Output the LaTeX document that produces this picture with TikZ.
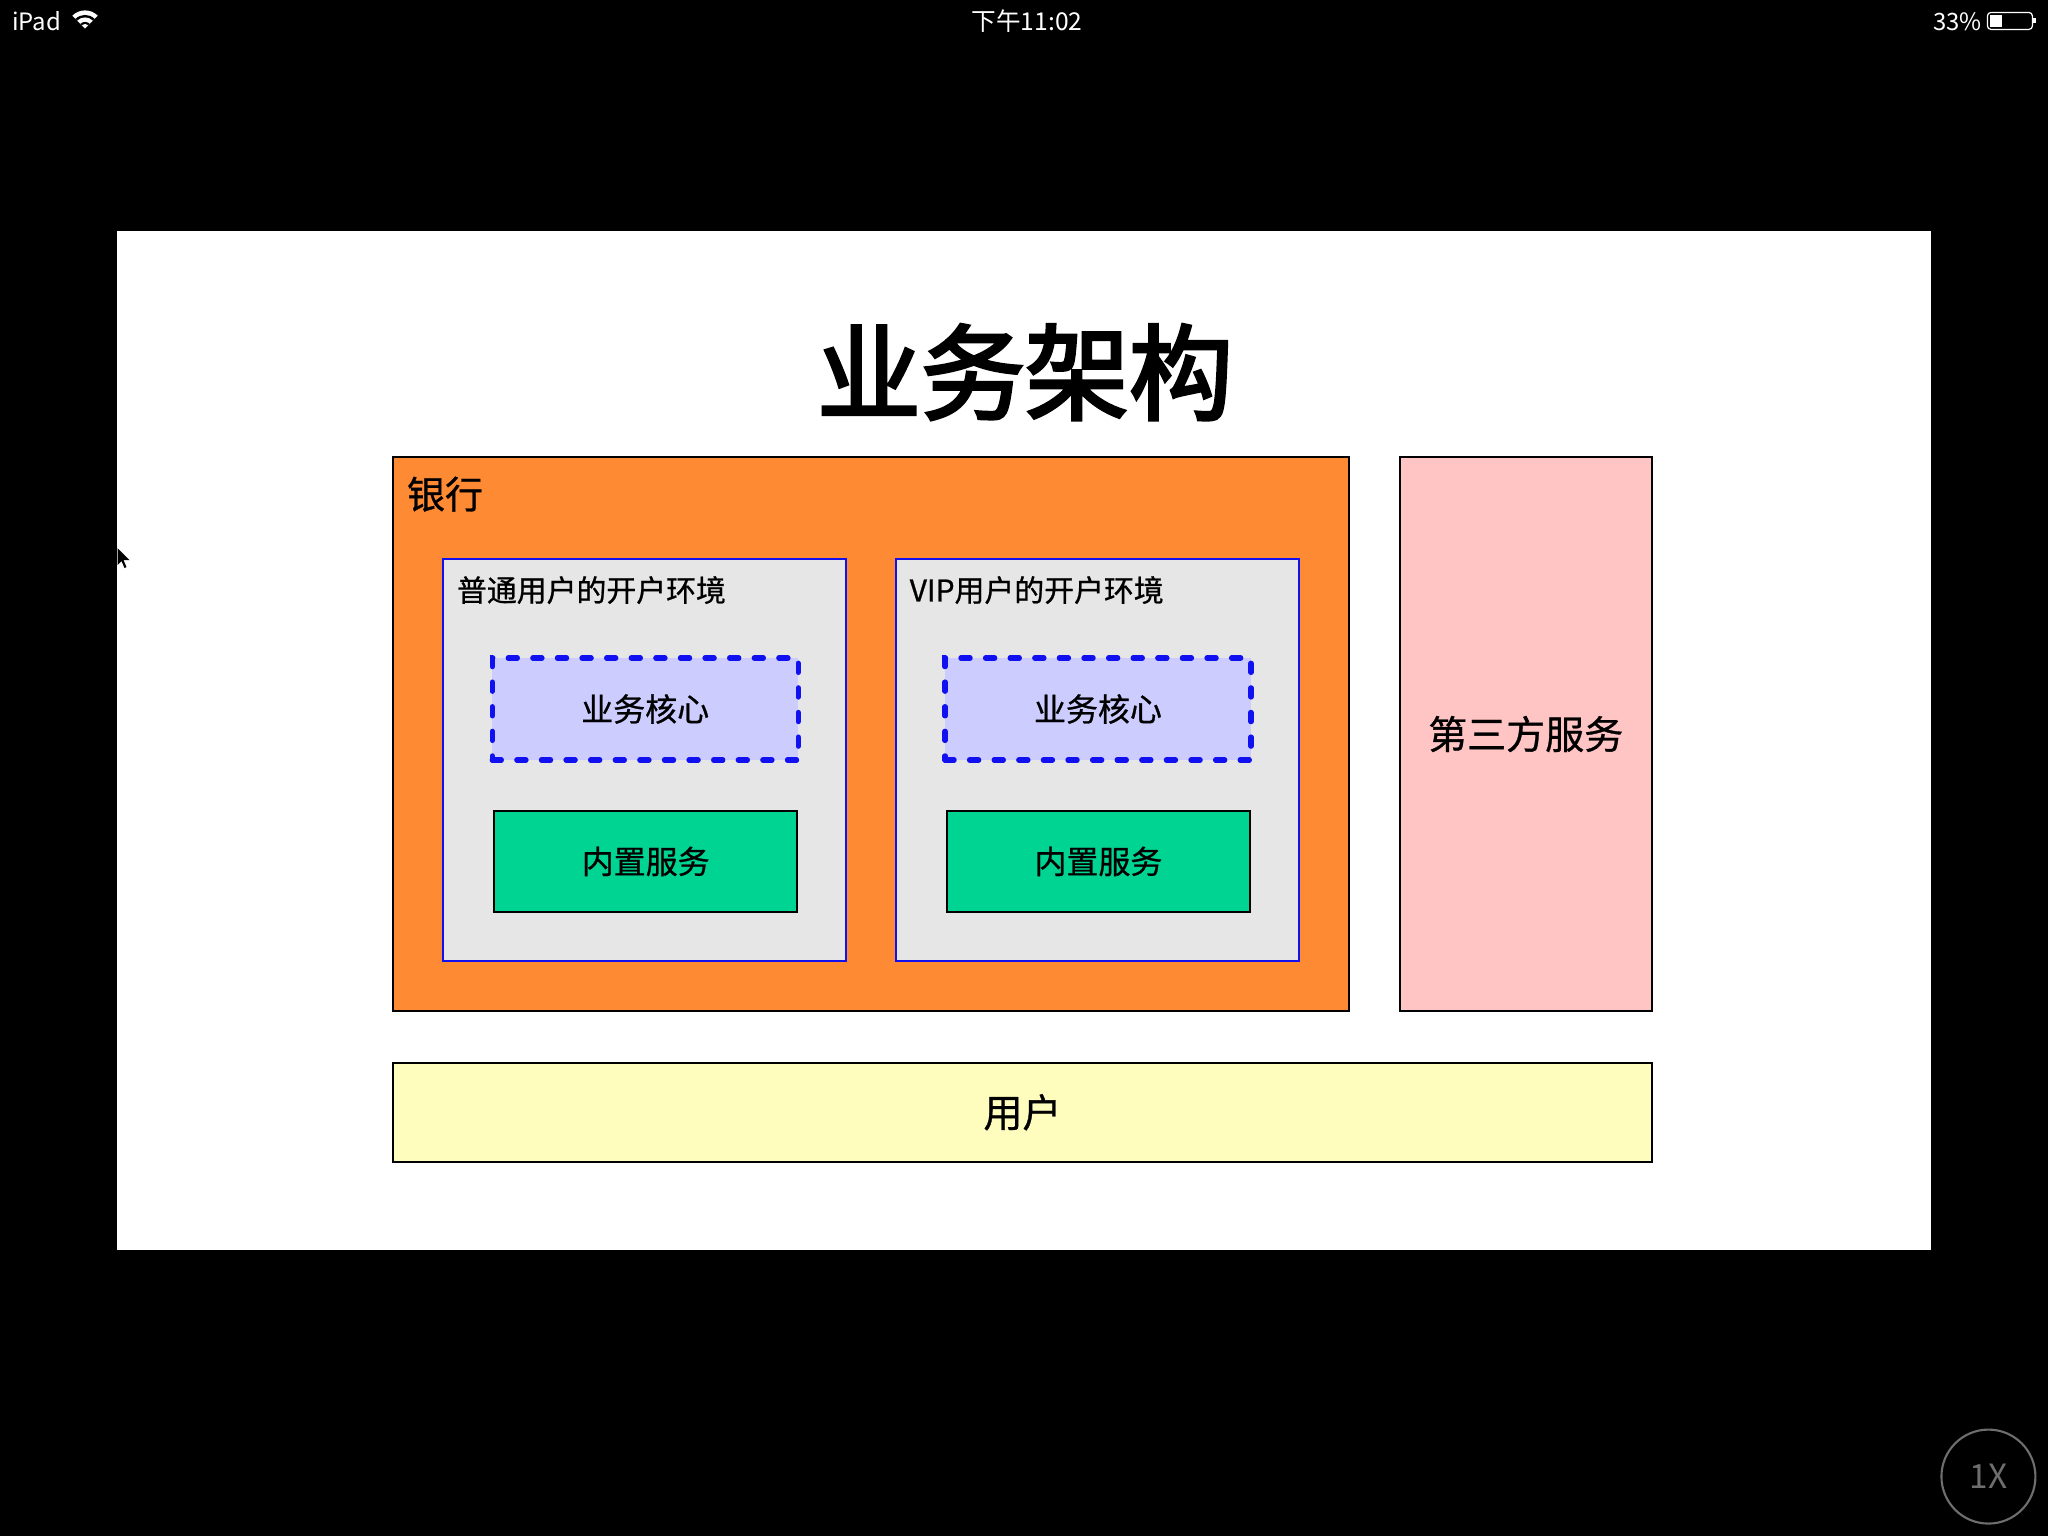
\documentclass[tikz,border=0pt]{standalone}
\usepackage{fontspec}
\setmainfont{Noto Sans CJK SC}
\newfontfamily\titlefont{Noto Sans CJK SC}[FakeBold=3]
\newfontfamily\labelfont{Noto Sans CJK SC}[FakeBold=0.8]
\usepackage{tikz}
\usetikzlibrary{positioning}

\definecolor{bankorange}{HTML}{FF8A34}
\definecolor{envgray}{HTML}{E6E6E6}
\definecolor{envblue}{HTML}{1010F0}
\definecolor{corefill}{HTML}{CCCCFF}
\definecolor{svcgreen}{HTML}{00D492}
\definecolor{thirdpink}{HTML}{FFC4C4}
\definecolor{useryellow}{HTML}{FFFDBE}
\definecolor{ringgray}{HTML}{6E6E6E}

\begin{document}
\begin{tikzpicture}[
  x=0.01cm, y=-0.01cm,
  box/.style={draw, rectangle, inner sep=0pt, outer sep=0pt, line width=0.6pt,
    align=center},
  envbox/.style={box, fill=envgray, draw=envblue, minimum width=4.03cm,
    minimum height=4.02cm},
  corebox/.style={box, fill=corefill, draw=envblue, line width=1.5pt,
    dash pattern=on 2.6pt off 4.4pt, line cap=round, minimum width=3.06cm,
    minimum height=1.02cm, font=\labelfont\fontsize{9.1pt}{11pt}\selectfont},
  svcbox/.style={box, fill=svcgreen, minimum width=3.03cm,
    minimum height=1.01cm, font=\labelfont\fontsize{9.1pt}{11pt}\selectfont},
  envlabel/.style={anchor=west, inner sep=0pt,
    font=\labelfont\fontsize{8.5pt}{10pt}\selectfont},
  status/.style={text=white, inner sep=0pt, font=\fontsize{6.8pt}{8pt}\selectfont}
]

% Screen and slide
\node[fill=black, minimum width=20.48cm, minimum height=15.36cm, inner sep=0pt,
  outer sep=0pt] (screen) at (1024,768) {};
\node[fill=white, minimum width=18.13cm, minimum height=10.19cm, inner sep=0pt,
  outer sep=0pt] (slide) at (1024,740.5) {};

% Title
\node[font=\titlefont\fontsize{29.6pt}{34pt}\selectfont] (title) at (1025,372) {业务架构};

% Bank
\node[box, fill=bankorange, minimum width=9.56cm, minimum height=5.54cm] (bank)
  at (871,734) {};
\node[anchor=west, inner sep=0pt, font=\labelfont\fontsize{10.8pt}{13pt}\selectfont]
  (banklabel) at (406,494) {银行};

% Normal user environment
\node[envbox] (normalenv) at (644.5,760) {};
\node[envlabel] (normallabel) at (456,590) {普通用户的开户环境};
\node[corebox] (normalcore) at (645,709) {业务核心};
\node[svcbox] (normalsvc) at (645.5,861.5) {内置服务};

% VIP user environment
\node[envbox] (vipenv) at (1097.5,760) {};
\node[envlabel] (viplabel) at (909,590) {VIP用户的开户环境};
\node[corebox] (vipcore) at (1098,709) {业务核心};
\node[svcbox] (vipsvc) at (1098.5,861.5) {内置服务};

% Third party services
\node[box, fill=thirdpink, minimum width=2.52cm, minimum height=5.54cm,
  font=\labelfont\fontsize{11.1pt}{13pt}\selectfont] (third) at (1526,734) {第三方服务};

% Users
\node[box, fill=useryellow, minimum width=12.59cm, minimum height=0.99cm,
  font=\labelfont\fontsize{11.1pt}{13pt}\selectfont] (user) at (1022.5,1112.5) {用户};

% Status bar
\node[status] (device) at (36,21) {iPad};
\coordinate (wifi) at (84.5,28);
\foreach \r/\c in {0.18cm/white, 0.135cm/black, 0.11cm/white, 0.065cm/black, 0.045cm/white}
  \fill[\c] (wifi) -- ++(45:\r) arc[start angle=45, end angle=135, radius=\r] -- cycle;
\node[status, font=\fontsize{7pt}{8pt}\selectfont] (clock) at (1027,21) {下午11:02};
\node[status] (charge) at (1958,21) {33\%};
\node[draw=white, line width=0.35pt, rounded corners=1pt, minimum width=0.45cm,
  minimum height=0.17cm, inner sep=0pt] (battery) at (2010.5,20.5) {};
\fill[white] (1990.5,14.5) rectangle (2003,26.5);
\fill[white] (2034,18) rectangle (2037,23);

% Mouse pointer
\fill[black] (117,548) -- (117,565) -- (121,561) -- (124,568) -- (126,567)
  -- (123,560) -- (129,560) -- cycle;

% Playback speed
\node[circle, draw=ringgray, line width=0.6pt, minimum size=0.94cm, inner sep=0pt,
  text=ringgray, font=\fontsize{9.5pt}{11pt}\selectfont] (speed) at (1989,1477) {1X};

\end{tikzpicture}
\end{document}
